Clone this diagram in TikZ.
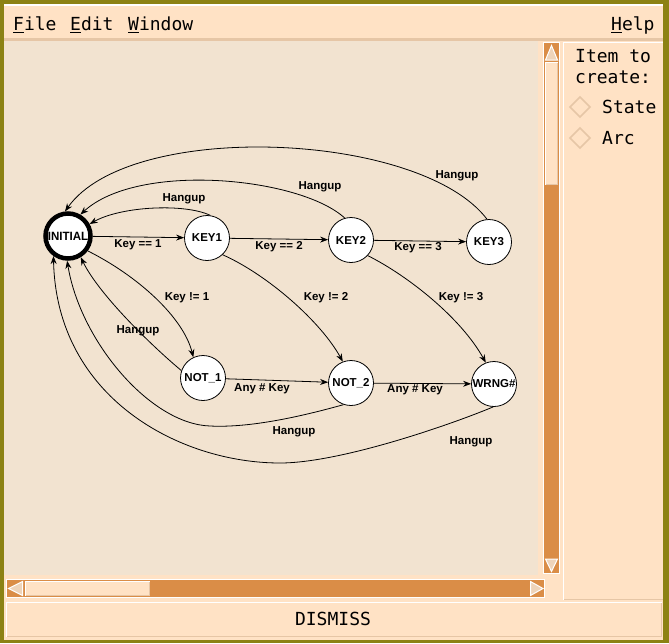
\documentclass[tikz,border=0pt]{standalone}
\usepackage{fontspec}
\newfontfamily\lblfont{Liberation Sans}
\newfontfamily\uifont{DejaVu Sans Mono}
\usetikzlibrary{arrows.meta}
\definecolor{frameol}{RGB}{140,130,20}
\definecolor{peach}{RGB}{255,226,197}
\definecolor{canvasbg}{RGB}{242,227,208}
\definecolor{orng}{RGB}{218,141,71}
\definecolor{bevel}{RGB}{230,198,166}
\definecolor{tri}{RGB}{238,212,186}
\begin{document}
\begin{tikzpicture}[x=1pt,y=-1pt,
 state/.style={circle,draw=black,fill=white,line width=0.8pt,minimum size=45pt,inner sep=0pt,font=\lblfont\bfseries\fontsize{11.5}{11.5}\selectfont},
 edge/.style={draw=black,line width=0.8pt,-{Stealth[length=8pt,width=6pt]}},
 lbl/.style={font=\lblfont\bfseries\fontsize{11.5}{12}\selectfont,inner sep=0pt},
 ui/.style={font=\uifont\fontsize{18}{18}\selectfont,inner sep=0pt,text=black,anchor=base west},
 uline/.style={line width=1.6pt,black},
 arrowtri/.style={fill=tri,draw=white,line width=1pt,line join=miter},
]
\useasboundingbox (0,0) rectangle (669,643);
% window frame
\fill[frameol] (0,0) rectangle (669,643);
\fill[peach] (4,4) rectangle (663,640);
\draw[white,line width=1.5pt] (4,5) -- (663,5);
% menu bar
\fill[bevel] (4,38) rectangle (663,41);
\node[ui] (mfile) at (13,30) {File};
\node[ui] (medit) at (70,30) {Edit};
\node[ui] (mwin) at (128,30) {Window};
\node[ui] (mhelp) at (611,30) {Help};
\draw[uline] (13,32.5) -- (23.5,32.5);
\draw[uline] (70,32.5) -- (80.5,32.5);
\draw[uline] (128,32.5) -- (138.5,32.5);
\draw[uline] (611,32.5) -- (621.5,32.5);
% canvas
\fill[canvasbg] (4,41) rectangle (538,575);
% vertical scrollbar
\fill[white] (543,42) rectangle (560,574);
\fill[orng] (544,43) rectangle (559,573);
\filldraw[arrowtri] (545.5,60) -- (551.5,45.5) -- (557.5,60) -- cycle;
\fill[peach] (545,62) rectangle (558,185);
\draw[white,line width=1.2pt] (545.5,185) -- (545.5,62.5) -- (558,62.5);
\draw[bevel,line width=1.2pt] (546,184.5) -- (557.5,184.5) -- (557.5,63);
\filldraw[arrowtri] (545.5,559) -- (557.5,559) -- (551.5,571.5) -- cycle;
% horizontal scrollbar
\fill[white] (6,579) rectangle (545,598);
\fill[orng] (7,580) rectangle (544,597);
\filldraw[arrowtri] (8.5,588.5) -- (22.5,581.5) -- (22.5,595.5) -- cycle;
\fill[peach] (25,581) rectangle (150,596);
\draw[white,line width=1.2pt] (25.5,596) -- (25.5,581.5) -- (150,581.5);
\draw[bevel,line width=1.2pt] (26,595.5) -- (149.5,595.5) -- (149.5,582);
\filldraw[arrowtri] (530.5,581.5) -- (543,588.5) -- (530.5,595.5) -- cycle;
% right panel
\draw[white,line width=1.5pt] (563.5,600) -- (563.5,42.5) -- (663,42.5);
\draw[bevel,line width=1.5pt] (564,599.5) -- (663,599.5);
\node[ui] (pitem) at (575,62.5) {Item to};
\node[ui] (pcreate) at (575,83) {create:};
\draw[bevel,line width=1.5pt] (570,107) -- (580,97) -- (590,107) -- (580,117) -- cycle;
\draw[bevel,line width=1.5pt] (570,138) -- (580,128) -- (590,138) -- (580,148) -- cycle;
\node[ui] (pstate) at (602,113) {State};
\node[ui] (parc) at (602,144) {Arc};
% dismiss button
\draw[white,line width=1.5pt] (6.5,637) -- (6.5,602.5) -- (662,602.5);
\draw[bevel,line width=1.5pt] (7,636.5) -- (661.5,636.5) -- (661.5,603);
\node[ui,anchor=center] (dismiss) at (333,619) {DISMISS};
% states
\node[state,line width=4.5pt,minimum size=45pt,font=\lblfont\bfseries\fontsize{12}{12}\selectfont] (INITIAL) at (68,236) {\scalebox{0.96}[1]{INITIAL}};
\node[state] (KEY1) at (207,238) {KEY1};
\node[state] (KEY2) at (351,240) {KEY2};
\node[state] (KEY3) at (489,242) {KEY3};
\node[state] (NOT1) at (203,378) {NOT\_1};
\node[state] (NOT2) at (351,383) {NOT\_2};
\node[state] (WRNG) at (494,384) {WRNG\#};
\coordinate (m2) at (210,426);
\coordinate (m3) at (280,463);
% arcs
\draw[edge] (INITIAL) -- (KEY1);
\draw[edge] (KEY1) -- (KEY2);
\draw[edge] (KEY2) -- (KEY3);
\draw[edge] (NOT1) -- (NOT2);
\draw[edge] (NOT2) -- (WRNG);
\draw[edge] (INITIAL.-37) .. controls +(50,25) and +(-10,-40) .. (NOT1.115);
\draw[edge] (KEY1.-47) .. controls +(45,20) and +(-22,-40) .. (NOT2.111);
\draw[edge] (KEY2.-43) .. controls +(40,20) and +(-25,-45) .. (WRNG.111);
\draw[edge] (KEY1.82) .. controls +(-25,-12) and +(32,-18) .. (INITIAL.29);
\draw[edge] (KEY2.106) .. controls +(-45,-41) and +(58,-53) .. (INITIAL.60);
\draw[edge] (KEY3.95) .. controls +(-67,-88) and +(65,-92) .. (INITIAL.97);
\draw[edge] (NOT1.161) .. controls +(-30,-25) and +(18,37) .. (INITIAL.-59);
\draw[edge] (NOT2.-109) .. controls +(-43,12) and (250,428) .. (m2) .. controls (150,424) and +(13,80) .. (INITIAL.-92);
\draw[edge] (WRNG.-92) .. controls +(-43,18) and (340,463) .. (m3) .. controls (180,463) and +(3,142) .. (INITIAL.-126);
% labels
\node[lbl] (l1) at (138,245) {Key == 1};
\node[lbl] (l2) at (279,247) {Key == 2};
\node[lbl] (l3) at (418,248) {Key == 3};
\node[lbl] (l4) at (187,298) {Key != 1};
\node[lbl] (l5) at (326,298) {Key != 2};
\node[lbl] (l6) at (461,298) {Key != 3};
\node[lbl] (l7) at (262,389) {Any \# Key};
\node[lbl] (l8) at (415,390) {Any \# Key};
\node[lbl] (h1) at (184,199) {Hangup};
\node[lbl] (h2) at (320,187) {Hangup};
\node[lbl] (h3) at (457,176) {Hangup};
\node[lbl] (h4) at (138,331) {Hangup};
\node[lbl] (h5) at (294,432) {Hangup};
\node[lbl] (h6) at (471,442) {Hangup};
\end{tikzpicture}
\end{document}
